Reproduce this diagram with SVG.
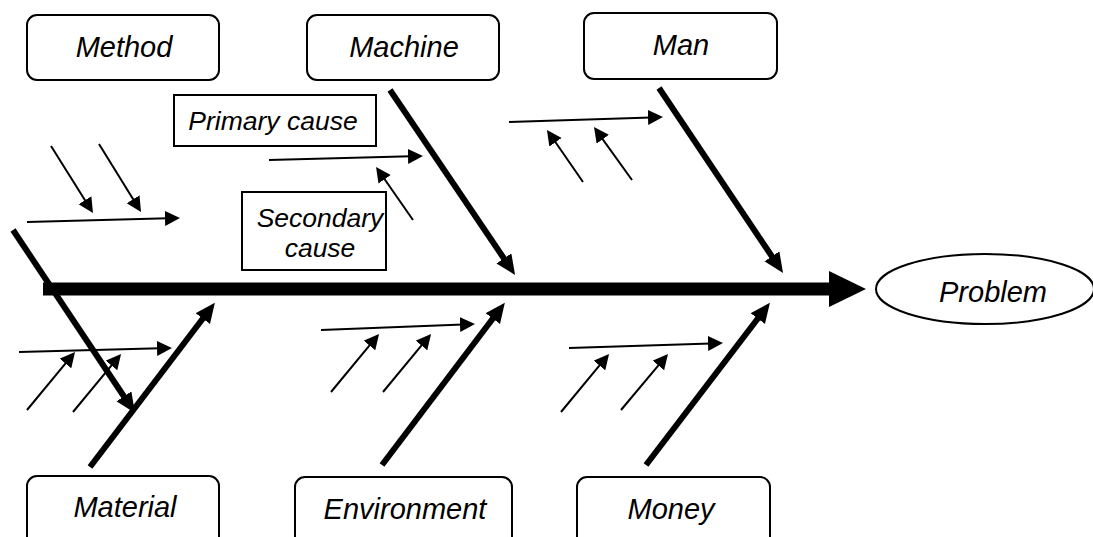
<svg xmlns="http://www.w3.org/2000/svg" width="1093" height="537" viewBox="0 0 1093 537">
<style>
.box{fill:#fff;stroke:#000;stroke-width:2}
.lbl{font-family:"Liberation Sans",Arial,sans-serif;font-style:italic;font-size:29px;fill:#000;text-anchor:middle}
.sm{font-size:26.5px}
.bone{stroke:#000;stroke-width:6;fill:none;marker-end:url(#big)}
.rib{stroke:#000;stroke-width:2;fill:none;marker-end:url(#small)}
</style>
<defs>
<marker id="big" markerUnits="userSpaceOnUse" markerWidth="22" markerHeight="20" refX="2" refY="9" orient="auto" viewBox="0 0 22 20">
<path d="M0,0 L20,9 L0,18 z" fill="#000"/>
</marker>
<marker id="small" markerUnits="userSpaceOnUse" markerWidth="17" markerHeight="16" refX="3" refY="7.5" orient="auto" viewBox="0 0 17 16">
<path d="M0,0 L15,7.5 L0,15 z" fill="#000"/>
</marker>
</defs>
<rect width="1093" height="537" fill="#fff"/>
<g id="node-method"><rect class="box" x="27" y="15" width="192" height="65" rx="10"/><text class="lbl" x="124" y="57">Method</text></g>
<g id="node-machine"><rect class="box" x="307" y="15" width="192" height="65" rx="10"/><text class="lbl" x="404" y="57">Machine</text></g>
<g id="node-man"><rect class="box" x="584" y="13" width="193" height="66" rx="10"/><text class="lbl" x="681" y="55">Man</text></g>
<g id="node-primary"><rect class="box" x="174" y="95" width="202" height="51"/><text class="lbl sm" x="273" y="130">Primary cause</text></g>
<g id="node-secondary"><rect class="box" x="242" y="192" width="144" height="78"/><text class="lbl sm" x="320" y="227">Secondary</text><text class="lbl sm" x="320" y="257">cause</text></g>
<g id="node-problem"><ellipse cx="985" cy="289" rx="109" ry="35" fill="#fff" stroke="#000" stroke-width="2"/><text class="lbl" x="993" y="302">Problem</text></g>
<g id="node-material"><rect class="box" x="27" y="476" width="192" height="80" rx="10"/><text class="lbl" x="125" y="517">Material</text></g>
<g id="node-environment"><rect class="box" x="295" y="477" width="217" height="80" rx="10"/><text class="lbl" x="405" y="519">Environment</text></g>
<g id="node-money"><rect class="box" x="577" y="477" width="193" height="80" rx="10"/><text class="lbl" x="671" y="519">Money</text></g>
<g id="connectors">
<line x1="43" y1="289" x2="832" y2="289" stroke="#000" stroke-width="13"/>
<polygon points="829,271 866,289 829,307" fill="#000"/>
<line class="bone" x1="13" y1="230" x2="125" y2="398"/>
<line class="bone" x1="390" y1="90" x2="505" y2="260"/>
<line class="bone" x1="659" y1="88" x2="773" y2="258"/>
<line class="bone" x1="90" y1="467" x2="204" y2="317"/>
<line class="bone" x1="382" y1="465" x2="494" y2="317"/>
<line class="bone" x1="646" y1="465" x2="759" y2="317"/>
<line class="rib" x1="27" y1="222" x2="168" y2="218.3"/>
<line class="rib" x1="51" y1="146" x2="86.6" y2="202.8"/>
<line class="rib" x1="99" y1="144" x2="134.7" y2="201.8"/>
<line class="rib" x1="269" y1="160" x2="411" y2="156.3"/>
<line class="rib" x1="413" y1="220" x2="382.9" y2="176.8"/>
<line class="rib" x1="509" y1="122" x2="651" y2="117.4"/>
<line class="rib" x1="583" y1="182" x2="553.8" y2="139.8"/>
<line class="rib" x1="632" y1="180" x2="601" y2="136.8"/>
<line class="rib" x1="19" y1="352" x2="160" y2="348.3"/>
<line class="rib" x1="27" y1="410" x2="67.4" y2="361.2"/>
<line class="rib" x1="73" y1="412" x2="113.4" y2="363.2"/>
<line class="rib" x1="321" y1="330" x2="463" y2="324.5"/>
<line class="rib" x1="331" y1="392" x2="371.4" y2="343.2"/>
<line class="rib" x1="383" y1="392" x2="423.4" y2="343.2"/>
<line class="rib" x1="569" y1="348" x2="711" y2="343.4"/>
<line class="rib" x1="561" y1="412" x2="601.4" y2="363.2"/>
<line class="rib" x1="621" y1="410" x2="660.3" y2="363.2"/>
</g>
</svg>
